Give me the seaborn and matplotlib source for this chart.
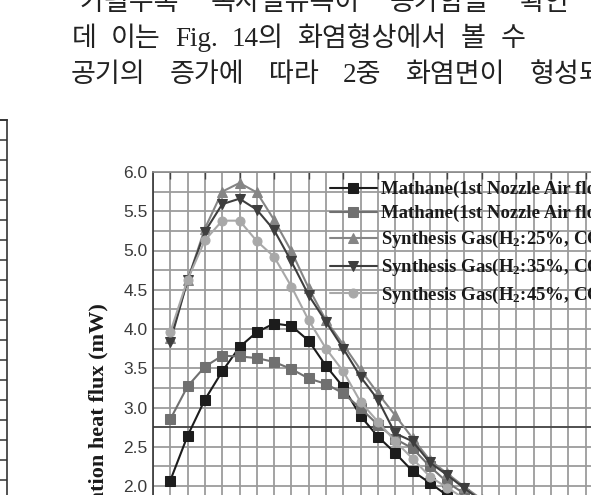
import matplotlib
matplotlib.use("Agg")
import matplotlib.pyplot as plt
from matplotlib.ticker import MultipleLocator
from matplotlib.font_manager import FontProperties
import seaborn as sns
import pandas as pd

# ---------------- data ----------------
position = list(range(19))
methane_1 = [2.07, 2.64, 3.10, 3.46, 3.77, 3.96, 4.07, 4.04, 3.85, 3.53, 3.26, 2.89, 2.63, 2.42, 2.19, 2.04, 1.88, 1.72, 1.58]
methane_2 = [2.85, 3.27, 3.52, 3.66, 3.65, 3.63, 3.58, 3.49, 3.37, 3.30, 3.18, 2.99, 2.78, 2.60, 2.48, 2.25, 2.05, 1.90, 1.75]
syn_h2_25 = [3.88, 4.62, 5.28, 5.75, 5.86, 5.74, 5.39, 4.99, 4.52, 4.11, 3.80, 3.48, 3.18, 2.90, 2.61, 2.33, 2.16, 1.99, 1.83]
syn_h2_35 = [3.84, 4.62, 5.24, 5.59, 5.66, 5.52, 5.26, 4.86, 4.43, 4.09, 3.75, 3.39, 3.10, 2.67, 2.57, 2.30, 2.14, 1.97, 1.81]
syn_h2_45 = [3.96, 4.63, 5.13, 5.38, 5.38, 5.12, 4.92, 4.54, 4.11, 3.75, 3.46, 3.07, 2.82, 2.57, 2.35, 2.12, 1.98, 1.84, 1.70]

series_labels = [
    "Mathane(1st Nozzle Air flow 100%)",
    "Mathane(1st Nozzle Air flow 50%)",
    r"Synthesis Gas(H$_{\mathrm{2}}$:25%, CO:75%)",
    r"Synthesis Gas(H$_{\mathrm{2}}$:35%, CO:65%)",
    r"Synthesis Gas(H$_{\mathrm{2}}$:45%, CO:55%)",
]
series_values = [methane_1, methane_2, syn_h2_25, syn_h2_35, syn_h2_45]
series_colors = ["#1c1c1c", "#707070", "#858585", "#3e3e3e", "#a8a8a8"]
series_markers = ["s", "s", "^", "v", "o"]

y_label = "Radiation heat flux (mW)"

# body text lines of the page: (baseline px, left px, right px, words)
korean_lines = [
    (10, 80, 570, ["가될수록", "복사열유속이", "증가함을", "확인"]),
    (46, 72, 525, ["데", "이는", "Fig.", "14의", "화염형상에서", "볼", "수"]),
    (82, 71, 604, ["공기의", "증가에", "따라", "2중", "화염면이", "형성되"]),
]

# ---------------- style ----------------
sns.set_style("white")
plt.rcParams["font.family"] = ["Liberation Sans", "DejaVu Sans"]
plt.rcParams["mathtext.fontset"] = "custom"
plt.rcParams["mathtext.rm"] = "Liberation Serif:bold"
plt.rcParams["mathtext.bf"] = "Liberation Serif:bold"
plt.rcParams["mathtext.it"] = "Liberation Serif:bold"

W, H = 591, 495
fig = plt.figure(figsize=(W / 100, H / 100), dpi=100)
fig.patch.set_facecolor("white")

def fx(px):
    return px / W

def fy(py):
    return 1 - py / H

# partial axis of the neighbouring chart at the left edge
axl = fig.add_axes([fx(-300), fy(700), fx(307), (700 - 120) / H])
axl.set_xlim(0, 1)
axl.set_ylim(0, 580)
axl.set_xticks([])
for s in ["left", "bottom"]:
    axl.spines[s].set_visible(False)
for s in ["top", "right"]:
    axl.spines[s].set_color("#333333")
    axl.spines[s].set_linewidth(1.2)
axl.yaxis.tick_right()
axl.yaxis.set_major_locator(MultipleLocator(40))
axl.yaxis.set_minor_locator(MultipleLocator(20))
axl.tick_params(axis="y", which="major", direction="in", length=9, width=1.1, color="#333333", labelright=False)
axl.tick_params(axis="y", which="minor", direction="in", length=6, width=1.1, color="#333333", labelright=False)

# main chart
ax = fig.add_axes([fx(153), fy(643), fx(519), 471 / H])
for lab, vals, col, mk in zip(series_labels, series_values, series_colors, series_markers):
    df = pd.DataFrame({"position": position, "flux": vals})
    sns.lineplot(data=df, x="position", y="flux", ax=ax, color=col, marker=mk,
                 markersize=6.5, markeredgecolor=col, markerfacecolor=col,
                 linewidth=1.5, label=lab, zorder=3)

ax.set_xlim(-1, 29)
ax.set_ylim(0, 6.0)
ax.yaxis.set_major_locator(MultipleLocator(0.5))
ax.yaxis.set_minor_locator(MultipleLocator(0.25))
ax.xaxis.set_major_locator(MultipleLocator(2))
ax.xaxis.set_minor_locator(MultipleLocator(1))
ax.grid(True, which="both", color="#9c9c9c", linewidth=1.3, zorder=0)
ax.set_axisbelow(True)
ax.axhline(2.75, color="#3a3a3a", linewidth=1.1, zorder=1)
ax.set_xlabel("")
ax.set_ylabel("")
ax.yaxis.set_major_formatter(matplotlib.ticker.FormatStrFormatter("%.1f"))
ax.tick_params(axis="y", which="major", direction="in", length=5, width=1.0, color="#444444",
               labelsize=12.5, labelcolor="#3a3a3a", pad=4)
ax.tick_params(axis="y", which="minor", direction="in", length=3, width=1.0, color="#444444")
ax.tick_params(axis="x", which="major", direction="in", top=True, bottom=True, length=5,
               width=1.0, color="#444444", labelbottom=False, labeltop=False)
ax.tick_params(axis="x", which="minor", length=0)
ax.spines["left"].set_color("#333333")
ax.spines["left"].set_linewidth(1.2)
ax.spines["top"].set_color("#8a8a8a")
ax.spines["top"].set_linewidth(1.2)

leg = ax.legend(loc="upper left", bbox_to_anchor=(fx(330), fy(181)), bbox_transform=fig.transFigure,
                frameon=False, borderpad=0, borderaxespad=0, handlelength=2.5, handletextpad=0.2,
                labelspacing=0.36,
                prop=FontProperties(family="Liberation Serif", weight="bold", size=13.5))
for t in leg.get_texts():
    t.set_color("#1a1a1a")

fig.text(fx(98), fy(303), y_label, rotation=90, ha="center", va="top",
         family="Liberation Serif", weight="bold", size=16, color="#1a1a1a")

# justified body text lines
renderer = fig.canvas.get_renderer()
for base, left, right, words in korean_lines:
    texts = [fig.text(0, fy(base), w, ha="left", va="baseline", size=19.5, color="#222222",
                      family=["Liberation Serif", "Noto Sans CJK KR"]) for w in words]
    widths = [t.get_window_extent(renderer=renderer).width for t in texts]
    gap = (right - left - sum(widths)) / max(len(words) - 1, 1)
    x = left
    for t, wd in zip(texts, widths):
        t.set_x(fx(x))
        x += wd + gap

fig.savefig("out.png", dpi=100)
